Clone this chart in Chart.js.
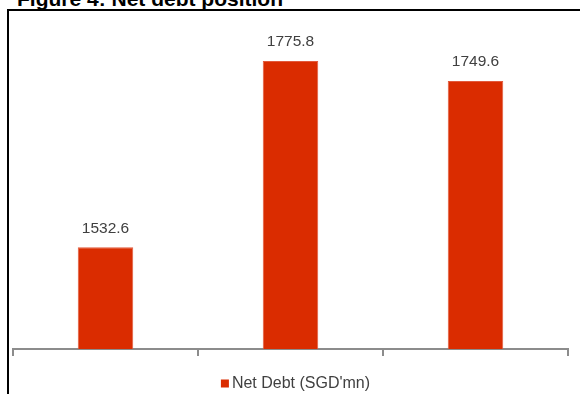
<!DOCTYPE html>
<html>
<head>
<meta charset="utf-8">
<script src="https://cdn.jsdelivr.net/npm/chart.js@4/dist/chart.umd.min.js"></script>
<style>
html,body{margin:0;padding:0;background:#fff;overflow:hidden}
#wrap{position:relative;width:580px;height:394px}
#frame{position:absolute;left:7px;top:9px;width:600px;height:400px;border-top:2px solid #000;border-left:2px solid #000}
#title{position:absolute;left:17px;top:-12px;font:bold 21px "Liberation Sans",Arial,sans-serif;line-height:21px;color:#000;white-space:nowrap}
#c{position:absolute;left:0;top:0}
</style>
</head>
<body>
<div id="wrap">
  <div id="title">Figure 4: Net debt position</div>
  <div id="frame"></div>
  <canvas id="c" width="580" height="394"></canvas>
</div>
<script>
const categories=["","",""];
const netDebt=[1532.6,1775.8,1749.6];
const seriesName="Net Debt (SGD'mn)";

const barRed="#DA2C00";
const textGrey="#404040";
const axisGrey="#8C8C8C";

// value labels above each bar
const barLabels={
  id:"barLabels",
  afterDatasetsDraw(chart){
    const ctx=chart.ctx;
    ctx.save();
    ctx.font='15.5px "Liberation Sans", Arial, sans-serif';
    ctx.fillStyle=textGrey;
    ctx.textAlign="center";
    ctx.textBaseline="middle";
    chart.getDatasetMeta(0).data.forEach((bar,i)=>{
      ctx.fillText(netDebt[i].toFixed(1),bar.x,bar.y-19);
    });
    ctx.restore();
  }
};

// simple legend under the axis, square close to text like the source
const bottomLegend={
  id:"bottomLegend",
  afterDraw(chart){
    const ctx=chart.ctx;
    const ds=chart.data.datasets[0];
    ctx.save();
    ctx.font='16px "Liberation Sans", Arial, sans-serif';
    const tw=ctx.measureText(ds.label).width;
    const total=8+3+tw;
    const cx=(chart.chartArea.left+chart.chartArea.right)/2+5;
    const x=cx-total/2;
    const y=chart.height-10.5;
    ctx.fillStyle=ds.backgroundColor;
    ctx.fillRect(x,y-4,8,8);
    ctx.fillStyle=textGrey;
    ctx.textAlign="left";
    ctx.textBaseline="middle";
    ctx.fillText(ds.label,x+11,y+0.5);
    ctx.restore();
  }
};

new Chart(document.getElementById("c"),{
  type:"bar",
  data:{
    labels:categories,
    datasets:[{
      label:seriesName,
      data:netDebt,
      backgroundColor:barRed,
      borderColor:"#E25A3C",
      borderWidth:1,
      categoryPercentage:1,
      barPercentage:0.3
    }]
  },
  options:{
    responsive:false,
    animation:false,
    layout:{padding:{left:13,right:12,top:4,bottom:38}},
    plugins:{legend:{display:false},tooltip:{enabled:false}},
    scales:{
      x:{
        grid:{display:true,drawOnChartArea:false,drawTicks:true,tickLength:7,color:axisGrey,lineWidth:2},
        border:{display:true,color:axisGrey,width:2},
        ticks:{display:false}
      },
      y:{display:false,min:1400,max:1850}
    }
  },
  plugins:[barLabels,bottomLegend]
});
</script>
</body>
</html>
